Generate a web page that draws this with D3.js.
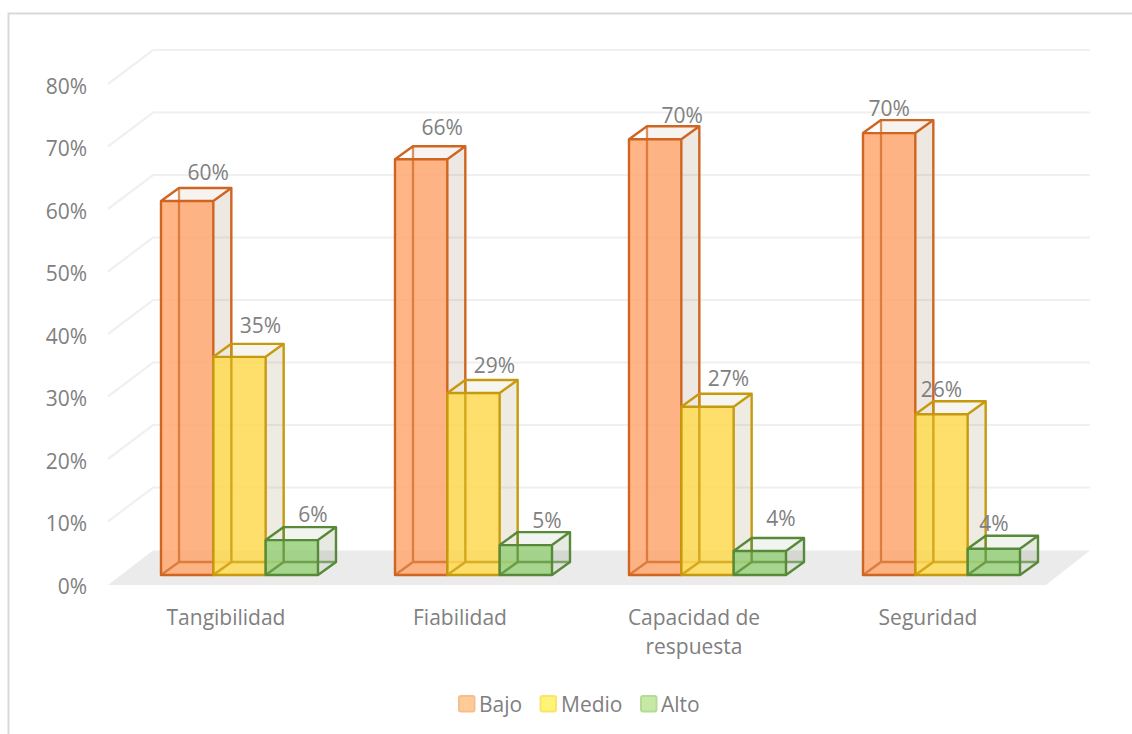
<!DOCTYPE html>
<html><head><meta charset="utf-8">
<script src="https://cdnjs.cloudflare.com/ajax/libs/d3/7.8.5/d3.min.js"></script>
<style>html,body{margin:0;padding:0;background:#fff;overflow:hidden}svg{display:block}text{font-family:"Open Sans",sans-serif;fill:#808080}</style>
</head><body><svg id="c" width="1132" height="734"></svg>
<script>
const categories = [["Tangibilidad"],["Fiabilidad"],["Capacidad de","respuesta"],["Seguridad"]];
const seriesNames = ["Bajo","Medio","Alto"];
const bajo  = [60.0,66.7,69.9,70.9];
const medio = [35.0,29.2,27.0,25.8];
const alto  = [5.6,4.8,3.85,4.2];
const bajoLabels  = ["60%","66%","70%","70%"];
const medioLabels = ["35%","29%","27%","26%"];
const altoLabels  = ["6%","5%","4%","4%"];
const yTicks = [0,10,20,30,40,50,60,70,80];

const strokes = ["#cf6520","#c79a0e","#568a38"];
const fills = ["#ffa56b","#ffdb4d","#96cf78"];
const tints = ["#a0765a","#a0905a","#6f8a5e"];
const swatchFill = ["#ffcc99","#fff475","#c6eaa6"];
const swatchStroke = ["#f8bd8c","#fbe46a","#b4dc96"];
const labelNudges = [
 [[21,-16],[21,-18],[21,-13]],
 [[21,-19],[21,-15],[21,-12]],
 [[27,-11],[21,-15],[21,-20]],
 [[0,-12],[0,-12],[0,-12]]];

const svg = d3.select("#c");
const depth = {x:18,y:-13};
const plot = {x0:161,step:234,gw:157};
const yFront = d3.scaleLinear().domain([0,80]).range([575,575-80*6.233]);
const yBack = d3.scaleLinear().domain([0,80]).range([550,50]);
const yLab = d3.scaleLinear().domain([0,80]).range([585,85]);
const xGroup = d3.scaleBand().domain(d3.range(4)).range([plot.x0,plot.x0+4*plot.step]).paddingInner(0).paddingOuter(0).align(0);
const xBar = d3.scaleBand().domain(d3.range(3)).range([0,plot.gw]);

// frame: only the left and top edges are visible in the picture
svg.append("path").attr("d","M8.5,734V13.5H1132").attr("fill","none").attr("stroke","#d9d9d9").attr("stroke-width",2);

// grid
const g = svg.append("g").attr("fill","none").attr("stroke","#f0f0f0").attr("stroke-width",2.2);
yTicks.filter(t=>t>0).forEach(t=>{
  g.append("path").attr("d",`M108,${yLab(t)-1}L153,${yBack(t)}H1090`);
});
svg.append("polygon").attr("points",[[108,585],[153,550.5],[1090,550.5],[1046,585]].join(" ")).attr("fill","#ebebeb");

// y axis
const ax = svg.append("g").attr("transform","translate(94,0)").call(d3.axisLeft(yLab).tickValues(yTicks).tickSize(0).tickPadding(7).tickFormat(d=>d+"%"));
ax.select(".domain").remove();
ax.selectAll("text").attr("font-size",21).attr("dy","0.40em").attr("style","font-family:'Open Sans',sans-serif;fill:#808080");

// bars
const values = [bajo,medio,alto];
const labels = [bajoLabels,medioLabels,altoLabels];
const bars = svg.append("g");
const txt = svg.append("g");
d3.range(4).forEach(c=>{
  d3.range(3).forEach(s=>{
    const x = xGroup(c)+xBar(s), w = xBar.bandwidth();
    const y1 = yFront(0), y0 = yFront(values[s][c]);
    const dx = depth.x, dy = depth.y;
    const b = bars.append("g");
    const st = strokes[s];
    const face = (pts,fill,op)=>b.append("polygon").attr("points",pts.join(" ")).attr("fill",fill).attr("fill-opacity",op).attr("stroke","none");
    const line = (d,o,sw)=>b.append("path").attr("d",d).attr("fill","none").attr("stroke",st).attr("stroke-width",sw).attr("stroke-linejoin","round").attr("stroke-opacity",o);
    face([[x+dx,y0+dy],[x+w+dx,y0+dy],[x+w+dx,y1+dy],[x+dx,y1+dy]],tints[s],0.09);
    face([[x+w,y0],[x+w+dx,y0+dy],[x+w+dx,y1+dy],[x+w,y1]],tints[s],0.09);
    face([[x,y0],[x+w,y0],[x+w,y1],[x,y1]],fills[s],0.82);
    line(`M${x+dx},${y0+dy}V${y1+dy}H${x+w+dx}M${x+dx},${y1+dy}L${x},${y1}`,0.7,2.3);
    line(`M${x},${y1}V${y0}H${x+w}V${y1}ZM${x},${y0}L${x+dx},${y0+dy}H${x+w+dx}L${x+w},${y0}M${x+w+dx},${y0+dy}V${y1+dy}L${x+w},${y1}`,1,2.4);
    const n = labelNudges[c][s];
    txt.append("text").attr("x",x+w/2+n[0]).attr("y",y0+dy+n[1]).attr("text-anchor","middle").attr("dy","0.36em").attr("font-size",21).text(labels[s][c]);
  });
});

// category labels
categories.forEach((lines,c)=>{
  const cx = xGroup(c)+65;
  lines.forEach((l,i)=>{
    svg.append("text").attr("x",cx).attr("y",617+i*29).attr("text-anchor","middle").attr("dy","0.36em").attr("font-size",21).text(l);
  });
});

// legend
const swatchX = [459,540.5,641];
const legendTextX = [479,561,661];
seriesNames.forEach((n,i)=>{
  svg.append("rect").attr("x",swatchX[i]).attr("y",696).attr("width",15.5).attr("height",15.5).attr("rx",2).attr("fill",swatchFill[i]).attr("stroke",swatchStroke[i]).attr("stroke-width",2);
  svg.append("text").attr("x",legendTextX[i]).attr("y",704).attr("dy","0.36em").attr("font-size",21).text(n);
});
</script></body></html>
